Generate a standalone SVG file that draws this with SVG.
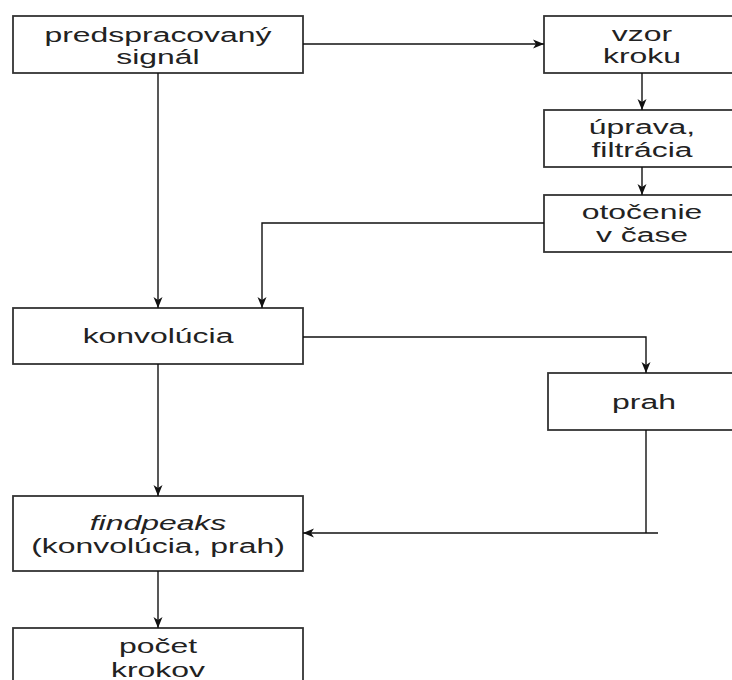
<svg xmlns="http://www.w3.org/2000/svg" width="732" height="680" viewBox="0 0 732 680">
  <style>
    .box { fill: #ffffff; stroke: #333333; stroke-width: 1.8; }
    .lbl { font-family: "Liberation Sans", Arial, sans-serif; font-size: 21px; fill: #222222; text-anchor: middle; }
    .it { font-style: italic; }
    .wire { fill: none; stroke: #111111; stroke-width: 1.4; }
  </style>
  <defs>
    <marker id="arrow" markerUnits="userSpaceOnUse" markerWidth="12" markerHeight="10" viewBox="0 0 12 10" refX="11" refY="5" orient="auto">
      <path d="M0,0.5 L11,5 L0,9.5 L3,5 Z" fill="#111111"/>
    </marker>
  </defs>
  <rect width="732" height="680" fill="#ffffff"/>

  <!-- processing steps -->
  <g id="predspracovany-signal">
    <rect class="box" x="13" y="16" width="290" height="57"/>
    <text class="lbl" transform="matrix(1.52 0 0 1 158 42)">predspracovaný</text>
    <text class="lbl" transform="matrix(1.52 0 0 1 158 64)">signál</text>
  </g>
  <g id="vzor-kroku">
    <rect class="box" x="544" y="16" width="196" height="57"/>
    <text class="lbl" transform="matrix(1.52 0 0 1 642 41)">vzor</text>
    <text class="lbl" transform="matrix(1.52 0 0 1 642 63)">kroku</text>
  </g>
  <g id="uprava-filtracia">
    <rect class="box" x="544" y="110" width="196" height="57"/>
    <text class="lbl" transform="matrix(1.52 0 0 1 642 134)">úprava,</text>
    <text class="lbl" transform="matrix(1.52 0 0 1 642 157)">filtrácia</text>
  </g>
  <g id="otocenie-v-case">
    <rect class="box" x="544" y="195" width="196" height="57"/>
    <text class="lbl" transform="matrix(1.52 0 0 1 642 219)">otočenie</text>
    <text class="lbl" transform="matrix(1.52 0 0 1 642 242)">v čase</text>
  </g>
  <g id="konvolucia">
    <rect class="box" x="13" y="308" width="290" height="56"/>
    <text class="lbl" transform="matrix(1.52 0 0 1 158 343)">konvolúcia</text>
  </g>
  <g id="prah">
    <rect class="box" x="548" y="373" width="192" height="57"/>
    <text class="lbl" transform="matrix(1.52 0 0 1 644 409)">prah</text>
  </g>
  <g id="findpeaks">
    <rect class="box" x="13" y="496" width="290" height="75"/>
    <text class="lbl it" transform="matrix(1.52 0 0 1 158 530)">findpeaks</text>
    <text class="lbl" transform="matrix(1.52 0 0 1 158 553)">(konvolúcia, prah)</text>
  </g>
  <g id="pocet-krokov">
    <rect class="box" x="13" y="628" width="290" height="70"/>
    <text class="lbl" transform="matrix(1.52 0 0 1 158 653)">počet</text>
    <text class="lbl" transform="matrix(1.52 0 0 1 158 677)">krokov</text>
  </g>

  <!-- connectors -->
  <g id="connectors">
    <path class="wire" d="M303 44 H544" marker-end="url(#arrow)"/>
    <path class="wire" d="M158 73 V308" marker-end="url(#arrow)"/>
    <path class="wire" d="M642 73 V110" marker-end="url(#arrow)"/>
    <path class="wire" d="M642 167 V195" marker-end="url(#arrow)"/>
    <path class="wire" d="M544 223 H262 V308" marker-end="url(#arrow)"/>
    <path class="wire" d="M303 337 H646 V373" marker-end="url(#arrow)"/>
    <path class="wire" d="M158 364 V496" marker-end="url(#arrow)"/>
    <path class="wire" d="M646 430 V533"/>
    <path class="wire" d="M658 533 H303" marker-end="url(#arrow)"/>
    <path class="wire" d="M158 571 V628" marker-end="url(#arrow)"/>
  </g>
</svg>
